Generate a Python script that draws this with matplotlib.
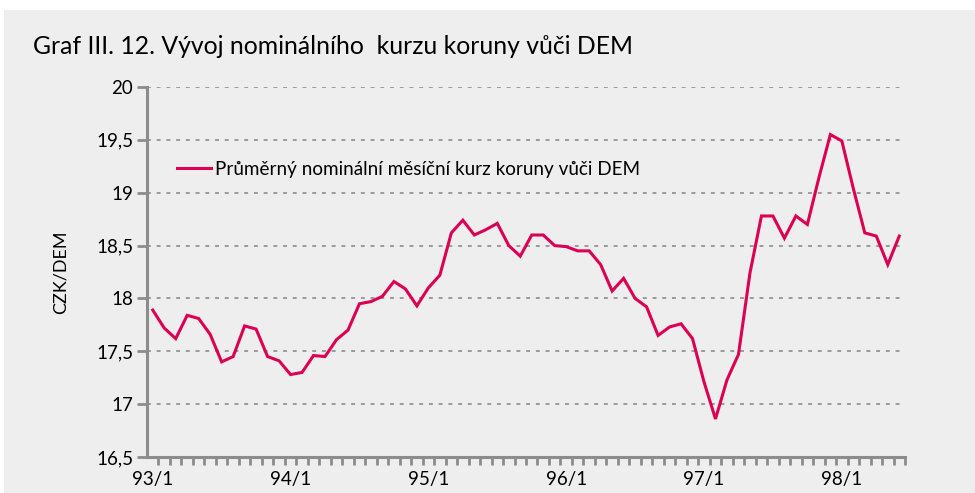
import numpy as np
import matplotlib.pyplot as plt
from matplotlib.patches import Rectangle
from matplotlib.ticker import FixedLocator, FuncFormatter

# monthly average CZK/DEM, 1993/1 .. 1998/6
kurz = [17.89, 17.72, 17.62, 17.84, 17.81, 17.66, 17.40, 17.45, 17.74, 17.71, 17.45, 17.41,
        17.28, 17.30, 17.46, 17.45, 17.61, 17.70, 17.95, 17.97, 18.02, 18.16, 18.09, 17.93,
        18.10, 18.22, 18.62, 18.74, 18.60, 18.65, 18.71, 18.50, 18.40, 18.60, 18.60, 18.50,
        18.49, 18.45, 18.45, 18.32, 18.07, 18.19, 18.00, 17.92, 17.65, 17.73, 17.76, 17.62,
        17.21, 16.86, 17.23, 17.47, 18.24, 18.78, 18.78, 18.57, 18.78, 18.70, 19.14, 19.55,
        19.49, 19.04, 18.62, 18.59, 18.32, 18.59]
year_labels = ["93/1", "94/1", "95/1", "96/1", "97/1", "98/1"]
y_ticks = [16.5, 17, 17.5, 18, 18.5, 19, 19.5, 20]

bg = "#eeeeee"
axis_col = "#8c8c8c"
line_col = "#dc0055"

plt.rcParams['font.family'] = ['Lato', 'DejaVu Sans']

fig = plt.figure(figsize=(9.75, 4.93), dpi=100)
fig.patch.set_facecolor("white")
fig.add_artist(Rectangle((4 / 975, 0), 1, 1 - 10 / 493, transform=fig.transFigure,
                         facecolor=bg, edgecolor="none", zorder=-10))

ax = fig.add_axes([147 / 975, 1 - 457 / 493, 758 / 975, 370 / 493])
ax.set_facecolor(bg)

x = np.arange(len(kurz))
ax.plot(x, kurz, color=line_col, lw=2.2, label="Průměrný nominální měsíční kurz koruny vůči DEM",
        solid_joinstyle="miter", zorder=3)

ax.set_xlim(-0.5, len(kurz) - 0.5)
ax.set_ylim(16.5, 20)

for s in ["top", "right"]:
    ax.spines[s].set_visible(False)
for s in ["left", "bottom"]:
    ax.spines[s].set_color(axis_col)
    ax.spines[s].set_linewidth(2.2)

ax.set_yticks(y_ticks)
ax.yaxis.set_major_formatter(FuncFormatter(lambda v, p: f"{v:g}".replace(".", ",")))
ax.tick_params(axis="y", length=7, width=2, color=axis_col, labelsize=13.5, pad=3)
for v in y_ticks[1:]:
    ax.axhline(v, color="#9a9a9a", lw=1.4, ls=(0, (2, 3)), zorder=1)

ax.set_xticks(np.arange(0, len(kurz), 12))
ax.set_xticklabels(year_labels)
ax.tick_params(axis="x", which="major", length=0, labelsize=13.5, pad=10)
ax.xaxis.set_minor_locator(FixedLocator(np.arange(0.5, len(kurz), 1)))
ax.tick_params(axis="x", which="minor", length=6, width=2, color=axis_col)

ax.set_ylabel("CZK/DEM", fontsize=13, labelpad=20)

ax.legend(loc="center left", bbox_to_anchor=(0.04, 0.778), frameon=False, fontsize=13.6,
          handlelength=1.8, handletextpad=0.2, borderpad=0, borderaxespad=0)

fig.text(33 / 975, 1 - 47 / 493, "Graf III. 12. Vývoj nominálního  kurzu koruny vůči DEM",
         fontsize=17.8, va="center", ha="left")

fig.savefig("out.png", dpi=100)
